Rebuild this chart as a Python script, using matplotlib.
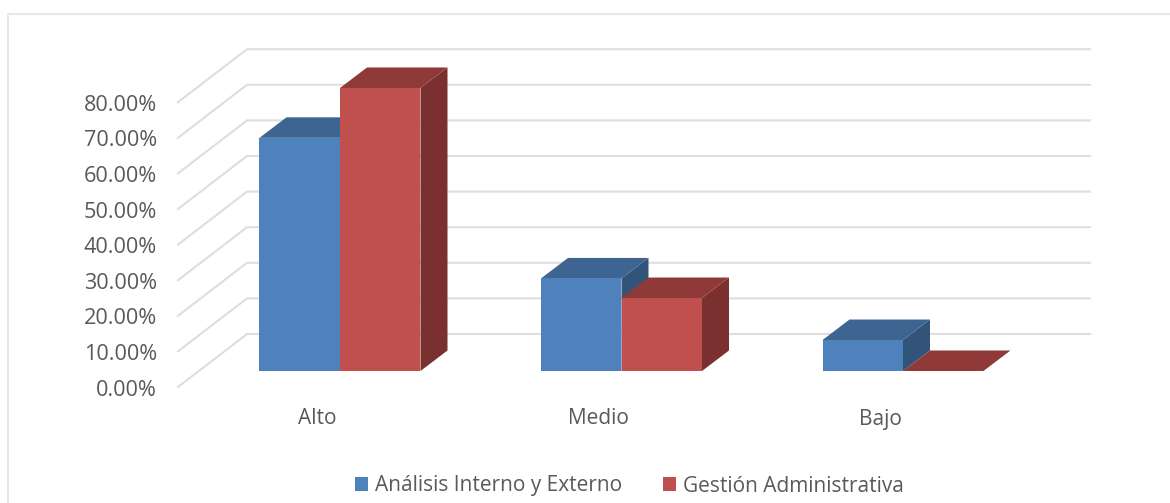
import matplotlib
matplotlib.use('Agg')
import matplotlib.pyplot as plt
from matplotlib.patches import Patch, Polygon, Rectangle

categorias = ['Alto', 'Medio', 'Bajo']
analisis = [65.5, 26.0, 8.7]
gestion = [79.5, 20.5, 0.0]
niveles = [0, 10, 20, 30, 40, 50, 60, 70, 80]

AZUL = ('#4F81BD', '#3E6491', '#335479')
ROJO = ('#C0504D', '#8F3A38', '#7A302E')
GRIS = '#DEDEDE'
TEXTO = '#595959'

plt.rcParams['font.family'] = 'Open Sans'

# escala: una categoria = 281.5 px, 1% = 3.56 px
PX_X = 1 / 281.5
PX_Y = 1 / 3.56
fig = plt.figure(figsize=(11.7, 5.03), dpi=100)
ax = fig.add_axes([0, 0, 1, 1])
ax.set_xlim(-340 * PX_X, 830 * PX_X)
ax.set_ylim(-132 * PX_Y, 371 * PX_Y)
ax.axis('off')

# marco del grafico
ax.plot([-332 * PX_X, -332 * PX_X, 830 * PX_X], [-132 * PX_Y, 357 * PX_Y, 357 * PX_Y],
        color='#E8E8E8', lw=1.5)

# lineas de la pared y del piso
izq_fondo = -93 * PX_X
der_fondo = 750 * PX_X
izq_frente = -162 * PX_X
sube_fondo = 37 * PX_Y
baja_frente = -16 * PX_Y
for v in niveles:
    ax.plot([izq_frente, izq_fondo, der_fondo],
            [v + baja_frente, v + sube_fondo, v + sube_fondo],
            color=GRIS, lw=1.5, solid_joinstyle='miter', zorder=1)
    ax.text(-183 * PX_X, v + baja_frente - 3 * PX_Y, '%.2f%%' % v, ha='right', va='center',
            fontsize=15.6, color=TEXTO)

ancho = 80.5 * PX_X
fondo_x = 27 * PX_X
fondo_y = 20.5 * PX_Y


def barra(x, valor, colores, z):
    frente, arriba, lado = colores
    ax.add_patch(Polygon([(x + ancho, 0), (x + ancho + fondo_x, fondo_y),
                          (x + ancho + fondo_x, valor + fondo_y), (x + ancho, valor)],
                         fc=lado, ec='none', zorder=z))
    ax.add_patch(Polygon([(x, valor), (x + ancho, valor),
                          (x + ancho + fondo_x, valor + fondo_y), (x + fondo_x, valor + fondo_y)],
                         fc=arriba, ec='none', zorder=z))
    ax.add_patch(Rectangle((x, 0), ancho, valor, fc=frente, ec='none', zorder=z))


for i, cat in enumerate(categorias):
    barra(i - ancho, analisis[i], AZUL, 2 + i)
    barra(i, gestion[i], ROJO, 2 + i + 0.5)
    ax.text(i - 23 * PX_X, -48 * PX_Y, cat, ha='center', va='center', fontsize=15, color=TEXTO)

handles = [Patch(fc=AZUL[0], label='Análisis Interno y Externo'),
           Patch(fc=ROJO[0], label='Gestión Administrativa')]
ax.legend(handles=handles, loc='center', bbox_to_anchor=(629.5 / 1170, 1 - 486 / 503), ncol=2,
          frameon=False, fontsize=15, labelcolor=TEXTO, handlelength=0.62, handleheight=0.62,
          handletextpad=0.3, columnspacing=2.0, borderpad=0, borderaxespad=0)

fig.savefig('out.png', dpi=100)
